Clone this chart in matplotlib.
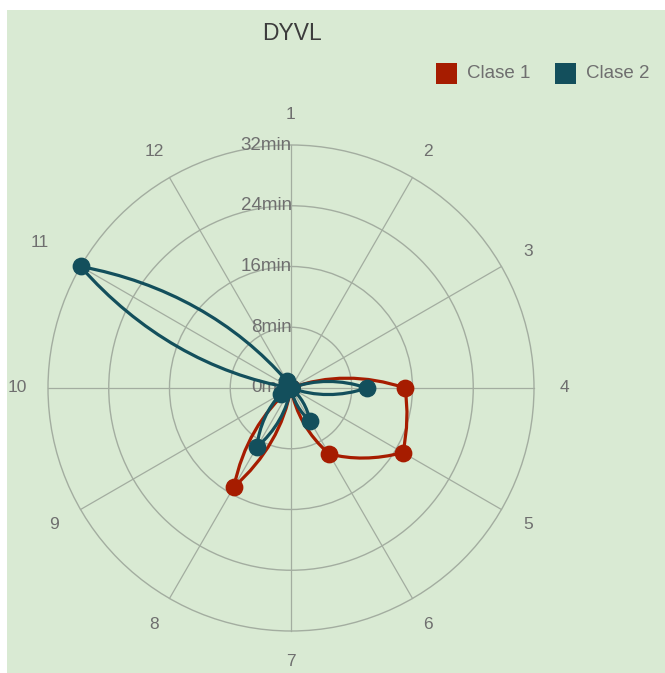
import numpy as np
import matplotlib
matplotlib.use("Agg")
import matplotlib.pyplot as plt
from matplotlib.path import Path
from matplotlib.patches import PathPatch, Rectangle, Circle

# ---- data -------------------------------------------------------------
categories = ["1", "2", "3", "4", "5", "6", "7", "8", "9", "10", "11", "12"]
clase1 = [0, 0, 0, 15, 17, 10, 0, 15, 0, 0, 0, 0]
clase2 = [0, 0, 0, 10, 0, 5, 0, 9, 1.5, 0, 32, 1]
series_names = ["Clase 1", "Clase 2"]
series_colors = ["#a61c00", "#134f5c"]
tick_values = [0, 8, 16, 24, 32]
tick_labels = ["0min", "8min", "16min", "24min", "32min"]
title = "DYVL"

# ---- figure / layout ----------------------------------------------------
W, H = 665, 673
CX, CY = 291, 388          # chart centre in pixels (from top-left)
RMAX_PX = 243              # pixel radius of the outer ring
RMAX = max(tick_values)
S = RMAX_PX / RMAX         # pixels per minute

BG = "#d9ead3"
GRID = "#a3ada0"
TXT = "#6f6f6f"

LABEL_R = 36                      # radius of the category labels
LABEL_R_WIDE = {"11": 38.2}       # labels pushed a bit further out

plt.rcParams["font.family"] = ["Liberation Sans", "DejaVu Sans"]

fig = plt.figure(figsize=(W / 100, H / 100), dpi=100)
fig.patch.set_facecolor("white")
fig.patches.append(Rectangle((7 / W, 0), 1 - 7 / W, 1 - 10 / H,
                             transform=fig.transFigure, facecolor=BG,
                             edgecolor="none", zorder=-10))

ax = fig.add_axes([0, 0, 1, 1])
ax.set_xlim(-CX / S, (W - CX) / S)
ax.set_ylim(-(H - CY) / S, CY / S)
ax.patch.set_alpha(0)
ax.axis("off")

n = len(categories)
angles = np.deg2rad(90 - 360 / n * np.arange(n))   # clockwise from top


def polar(theta, r):
    return r * np.cos(theta), r * np.sin(theta)


# ---- grid -----------------------------------------------------------------
for v in tick_values[1:]:
    ax.add_patch(Circle((0, 0), v, fill=False, ec=GRID, lw=1.0, zorder=1))
for th in angles:
    x, y = polar(th, RMAX)
    ax.plot([0, x], [0, y], color=GRID, lw=0.9, zorder=1)

# category labels
for th, lab in zip(angles, categories):
    x, y = polar(th, LABEL_R_WIDE.get(lab, LABEL_R))
    ax.text(x, y, lab, ha="center", va="center", fontsize=12.5, color=TXT,
            zorder=2)

# radial tick labels along the vertical axis
for v, lab in zip(tick_values, tick_labels):
    ax.text(0.1, v, lab, ha="right", va="center", fontsize=13.5, color=TXT,
            zorder=2)


# ---- series ---------------------------------------------------------------
def radar_path(values):
    """Closed curve through the points; each segment is a cubic whose
    control points sit at 1/3 and 2/3 of the way in angle and radius."""
    verts, codes = [], []
    th = list(angles) + [angles[0] - 2 * np.pi]
    vals = list(values) + [values[0]]
    verts.append(polar(th[0], vals[0]))
    codes.append(Path.MOVETO)
    for i in range(n):
        t0, t1 = th[i], th[i + 1]
        r0, r1 = vals[i], vals[i + 1]
        for f in (1 / 3, 2 / 3):
            verts.append(polar(t0 + (t1 - t0) * f, r0 + (r1 - r0) * f))
            codes.append(Path.CURVE4)
        verts.append(polar(t1, r1))
        codes.append(Path.CURVE4)
    return Path(verts, codes)


for k, (vals, col) in enumerate(zip([clase1, clase2], series_colors)):
    z = 3 + 2 * k
    ax.add_patch(PathPatch(radar_path(vals), fill=False, ec=col, lw=2.3,
                           zorder=z, capstyle="round", joinstyle="round"))
    xs, ys = polar(angles, np.asarray(vals, dtype=float))
    ax.plot(xs, ys, "o", ms=11.8, color=col, mec=col, zorder=z + 1)

# ---- title & legend -------------------------------------------------------
fig.text(292 / W, 1 - 33 / H, title, ha="center", va="center",
         fontsize=16.5, color="#3c3c3c")

legend_x = [436, 555]
for x0, name, col in zip(legend_x, series_names, series_colors):
    fig.patches.append(Rectangle((x0 / W, 1 - 84 / H), 21 / W, 21 / H,
                                 transform=fig.transFigure, facecolor=col,
                                 edgecolor="none"))
    fig.text((x0 + 31) / W, 1 - 74 / H, name, ha="left", va="center",
             fontsize=13.5, color=TXT)

fig.savefig("out.png", dpi=100, facecolor=fig.get_facecolor())
